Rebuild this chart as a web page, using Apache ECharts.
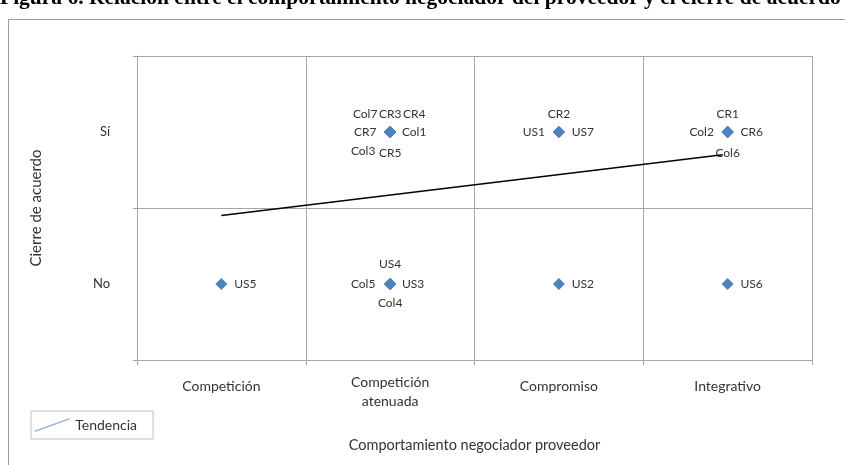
<!DOCTYPE html>
<html>
<head>
<meta charset="utf-8">
<title>Relación entre el comportamiento negociador del proveedor y el cierre de acuerdo</title>
<script src="https://cdn.jsdelivr.net/npm/echarts@6/dist/echarts.min.js"></script>
<style>
  html, body { margin: 0; padding: 0; background: #fff; }
  #chart { width: 845px; height: 465px; }
</style>
</head>
<body>
<div id="chart"></div>
<script>
// Negotiation behaviour categories (x) and agreement outcome (y)
const behaviours = ['Competición', 'Competición atenuada', 'Compromiso', 'Integrativo'];
const outcomes = ['No', 'Sí'];

// Each supplier: [code, behaviour, agreement reached]
const suppliers = [
  ['US5', 'Competición', 'No'],
  ['Col7', 'Competición atenuada', 'Sí'],
  ['CR3', 'Competición atenuada', 'Sí'],
  ['CR4', 'Competición atenuada', 'Sí'],
  ['CR7', 'Competición atenuada', 'Sí'],
  ['Col1', 'Competición atenuada', 'Sí'],
  ['Col3', 'Competición atenuada', 'Sí'],
  ['CR5', 'Competición atenuada', 'Sí'],
  ['US4', 'Competición atenuada', 'No'],
  ['Col5', 'Competición atenuada', 'No'],
  ['US3', 'Competición atenuada', 'No'],
  ['Col4', 'Competición atenuada', 'No'],
  ['CR2', 'Compromiso', 'Sí'],
  ['US1', 'Compromiso', 'Sí'],
  ['US7', 'Compromiso', 'Sí'],
  ['US2', 'Compromiso', 'No'],
  ['CR1', 'Integrativo', 'Sí'],
  ['Col2', 'Integrativo', 'Sí'],
  ['CR6', 'Integrativo', 'Sí'],
  ['Col6', 'Integrativo', 'Sí'],
  ['US6', 'Integrativo', 'No']
];

// Trend line end points: [behaviour position (1..4), agreement score (0..1)]
const trendLine = [[1, 0.45], [3.97, 0.85]];

// Where each supplier code sits around its shared marker, in pixels
const labelOffset = {
  US5: [24, 0],
  Col7: [-25, -18], CR3: [0, -18], CR4: [24, -18],
  CR7: [-25, 0], Col1: [24, 0],
  Col3: [-27, 19], CR5: [0, 21],
  US4: [0, -20], Col5: [-27, 0], US3: [23, 0], Col4: [0, 19],
  CR2: [0, -18], US1: [-25, 0], US7: [24, 0],
  US2: [24, 0],
  CR1: [0, -18], Col2: [-26, 0], CR6: [24, 0], Col6: [0, 21],
  US6: [24, 0]
};

const titleText = 'Figura 6. Relación entre el comportamiento negociador del proveedor y el cierre de acuerdo';

const gridColor = '#a6a6a6';
const textColor = '#333333';
const fontFamily = 'Lato';

const scatterData = suppliers.map(([code, behaviour, outcome]) => ({
  name: code,
  value: [behaviour, outcome],
  label: { offset: labelOffset[code] || [0, 0] }
}));

const chart = echarts.init(document.getElementById('chart'), null, { renderer: 'canvas' });

chart.setOption({
  animation: false,
  textStyle: { fontFamily: fontFamily, color: textColor },
  graphic: [
    {
      type: 'rect',
      silent: true,
      shape: { x: 8.5, y: 19.5, width: 1000, height: 1000 },
      style: { fill: 'none', stroke: '#9a9a9a', lineWidth: 1 }
    },
    {
      type: 'text',
      silent: true,
      x: 0,
      y: 9,
      style: {
        text: titleText,
        font: 'bold 21.5px "Liberation Serif"',
        fill: '#000',
        verticalAlign: 'bottom'
      }
    }
  ],
  grid: { left: 137, right: 33, top: 56, bottom: 105 },
  legend: {
    left: 31,
    top: 411,
    padding: [7, 16, 7, 4],
    borderColor: '#bfbfbf',
    borderWidth: 1,
    itemWidth: 36,
    itemHeight: 14,
    textStyle: { fontSize: 14, color: textColor, fontFamily: fontFamily },
    data: [{
      name: 'Tendencia',
      icon: 'path://M0,13 L36,0 L36,1.6 L0,14.6 Z',
      itemStyle: { color: '#95b3d7', borderWidth: 0 }
    }]
  },
  xAxis: [
    {
      type: 'category',
      data: behaviours,
      boundaryGap: true,
      name: 'Comportamiento negociador proveedor',
      nameLocation: 'middle',
      nameGap: 78,
      nameTextStyle: { fontSize: 14.5, color: textColor },
      axisLine: { onZero: false, lineStyle: { color: gridColor } },
      axisTick: { show: true, length: 5, lineStyle: { color: gridColor } },
      splitLine: { show: true, lineStyle: { color: gridColor, width: 1 } },
      axisLabel: {
        interval: 0,
        margin: 13,
        fontSize: 14,
        color: textColor,
        verticalAlign: 'top',
        lineHeight: 19,
        formatter: v => v.indexOf(' ') > -1 ? v.replace(' ', '\n') : '{s|' + v + '}',
        rich: { s: { lineHeight: 27, fontSize: 14, color: textColor } }
      }
    },
    { type: 'value', min: 0.5, max: 4.5, show: false }
  ],
  yAxis: [
    {
      type: 'category',
      data: outcomes,
      boundaryGap: true,
      name: 'Cierre de acuerdo',
      nameLocation: 'middle',
      nameGap: 93,
      nameTextStyle: { fontSize: 15, color: textColor },
      axisLine: { show: true, onZero: false, lineStyle: { color: gridColor } },
      axisTick: { show: true, length: 4, lineStyle: { color: gridColor } },
      splitLine: { show: true, lineStyle: { color: gridColor, width: 1 } },
      axisLabel: { margin: 27, fontSize: 13, color: textColor }
    },
    { type: 'value', min: -0.5, max: 1.5, show: false }
  ],
  series: [
    {
      name: 'Proveedores',
      type: 'scatter',
      symbol: 'diamond',
      symbolSize: 12,
      itemStyle: { color: '#4f81bd', opacity: 1 },
      label: {
        show: true,
        position: 'inside',
        formatter: '{b}',
        fontSize: 12,
        color: textColor,
        fontFamily: fontFamily
      },
      data: scatterData,
      z: 3
    },
    {
      name: 'Tendencia',
      type: 'line',
      xAxisIndex: 1,
      yAxisIndex: 1,
      data: trendLine,
      symbol: 'none',
      itemStyle: { color: '#000' },
      lineStyle: { color: '#000', width: 1.5 },
      z: 4
    }
  ]
});
</script>
</body>
</html>
